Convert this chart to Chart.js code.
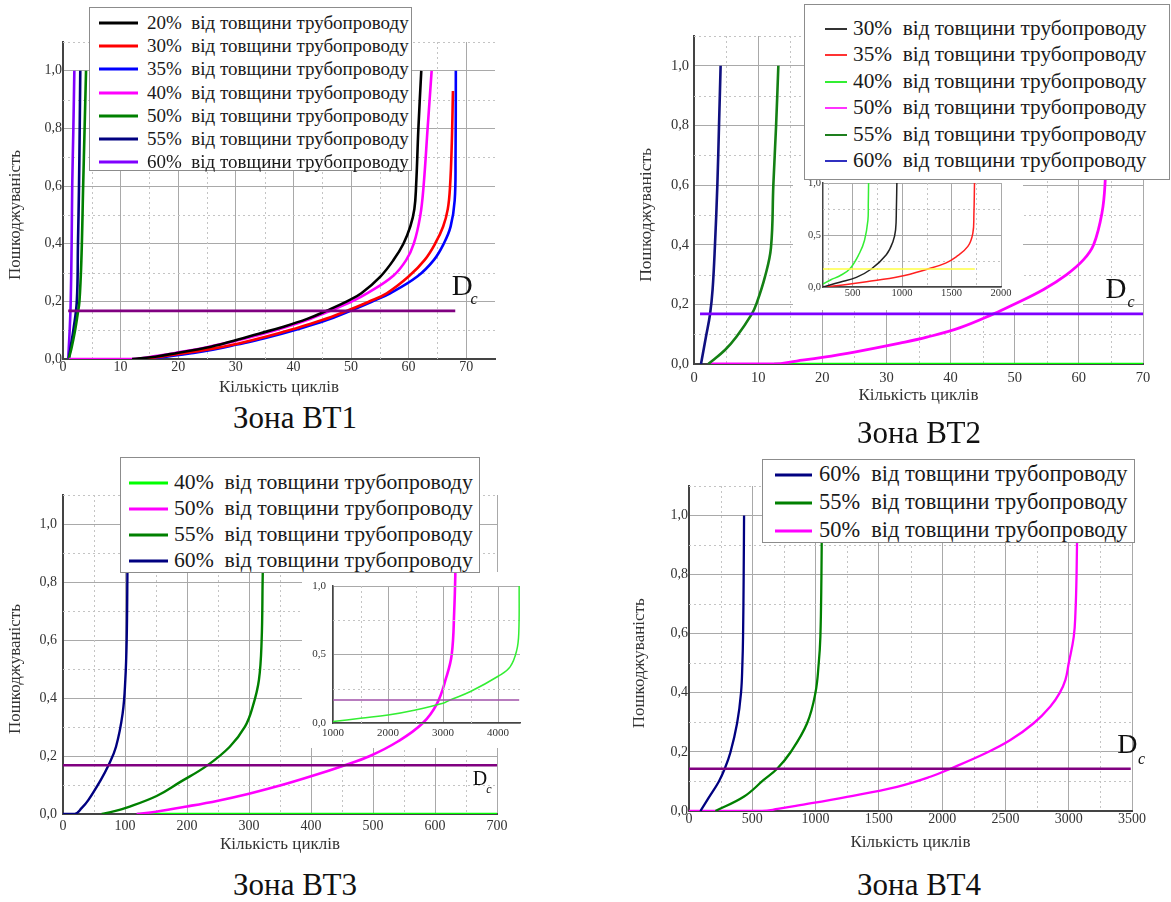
<!DOCTYPE html>
<html lang="uk">
<head>
<meta charset="utf-8">
<title>Пошкоджуваність</title>
<script src="https://cdn.jsdelivr.net/npm/chart.js"></script>
<style>
  html, body { margin: 0; padding: 0; background: #fff; }
  body { position: relative; width: 1171px; height: 902px; overflow: hidden;
         font-family: "Liberation Serif", "Times New Roman", "DejaVu Serif", serif; color: #1a1a1a; }
  canvas { position: absolute; }
  .legend { position: absolute; background: #fff; border: 1px solid #8c8c8c; box-sizing: border-box; z-index: 5; }
  .legend .row { position: absolute; left: 0; height: 0; }
  .legend .ln { position: absolute; top: 0; transform: translateY(-50%); }
  .legend .tx { position: absolute; top: 0; transform: translateY(-52%); white-space: pre; line-height: 1; }
  .zone { position: absolute; transform: translate(-50%, -50%); font-size: 31px; white-space: nowrap; color: #111; z-index: 5; }
</style>
</head>
<body>
<script>
const FONT = '"Liberation Serif", "Times New Roman", "DejaVu Serif", serif';
const LEGEND_TAIL = '  від товщини трубопроводу';
const X_TITLE = 'Кількість циклів';
const Y_TITLE = 'Пошкоджуваність';
const yTicks = [0, 0.2, 0.4, 0.6, 0.8, 1.0];
const insetYTicks = [0, 0.5, 1.0];

// ---- Зона ВТ1 ----
const bt1Levels = ['20%', '30%', '35%', '40%', '50%', '55%', '60%'];
const bt1XTicks = [0, 10, 20, 30, 40, 50, 60, 70];
const bt1_20 = [[12, 0], [16, 0.008], [20, 0.022], [25, 0.04], [29, 0.06], [34, 0.088], [38.3, 0.112], [42.5, 0.14], [45.8, 0.168], [49.3, 0.2], [51.8, 0.228], [55.1, 0.286], [57.4, 0.344], [59.1, 0.4], [60.3, 0.46], [61, 0.52], [61.3, 0.6], [61.7, 0.8], [62.2, 1.0]];
const bt1_30 = [[13, 0], [17, 0.008], [21, 0.02], [26, 0.036], [30.5, 0.054], [35, 0.076], [40, 0.104], [45, 0.135], [49, 0.165], [53, 0.198], [56.2, 0.228], [60, 0.286], [62.8, 0.344], [64.6, 0.4], [66.0, 0.46], [66.8, 0.52], [67.2, 0.6], [67.5, 0.75], [67.7, 0.93]];
const bt1_35 = [[14, 0], [18, 0.008], [22, 0.019], [26, 0.032], [30.2, 0.05], [35, 0.072], [41.2, 0.106], [45.8, 0.135], [49.6, 0.165], [53.5, 0.198], [56.8, 0.228], [61.5, 0.286], [64.4, 0.344], [66.1, 0.4], [67.3, 0.46], [68.0, 0.55], [68.15, 0.7], [68.2, 1.0]];
const bt1_40 = [[1, 0], [12, 0], [16, 0.01], [20, 0.023], [25, 0.041], [30, 0.063], [34, 0.083], [38.6, 0.11], [43, 0.14], [46.4, 0.167], [50.2, 0.2], [53, 0.23], [57.4, 0.29], [59.6, 0.344], [60.9, 0.4], [62.0, 0.494], [62.6, 0.6], [63.3, 0.8], [64, 1.0]];
const bt1_50 = [[1, 0], [1.5, 0.04], [2.1, 0.1], [2.5, 0.15], [2.85, 0.2], [3.2, 0.35], [3.5, 0.6], [3.75, 0.8], [4.0, 1.0]];
const bt1_55 = [[1, 0], [1.4, 0.05], [1.8, 0.1], [2.4, 0.2], [2.6, 0.4], [2.78, 0.6], [2.9, 0.8], [3.0, 1.0]];
const bt1_60 = [[0.9, 0], [1.16, 0.1], [1.34, 0.2], [1.5, 0.4], [1.6, 0.6], [1.8, 0.8], [1.97, 1.0]];
const bt1Dc = [[0.9, 0.167], [68.1, 0.167]];

// ---- Зона ВТ2 ----
const bt2Levels = ['30%', '35%', '40%', '50%', '55%', '60%'];
const bt2XTicks = [0, 10, 20, 30, 40, 50, 60, 70];
const bt2_40 = [[12.5, 0], [70, 0]];
const bt2_50 = [[2.2, 0], [12.5, 0], [16, 0.01], [20, 0.022], [25, 0.04], [32.1, 0.07], [36.3, 0.09], [41.5, 0.122], [46.7, 0.168], [49.5, 0.196], [54.5, 0.25], [58.1, 0.3], [60.7, 0.349], [62.3, 0.4], [63.6, 0.506], [64.1, 0.612], [64.4, 0.8], [64.6, 1.0]];
const bt2_55 = [[2.23, 0], [4.83, 0.047], [6.65, 0.092], [9.0, 0.167], [9.77, 0.204], [11.07, 0.293], [12.0, 0.39], [12.37, 0.6], [12.8, 0.8], [13.15, 1.0]];
const bt2_60 = [[1.09, 0], [1.87, 0.092], [2.5, 0.167], [2.9, 0.25], [3.27, 0.4], [3.64, 0.6], [3.9, 0.8], [4.15, 1.0]];
const bt2Dc = [[0.94, 0.168], [70, 0.168]];
// inset of ВТ2
const bt2InXTicks = [500, 1000, 1500, 2000];
const bt2In_30 = [[200, 0], [370, 0.045], [537, 0.093], [689, 0.173], [840, 0.31], [907, 0.436], [934, 0.55], [942, 0.75], [947, 1.0]];
const bt2In_35 = [[200, 0], [420, 0.022], [640, 0.05], [975, 0.1], [1261, 0.173], [1440, 0.23], [1547, 0.29], [1665, 0.39], [1715, 0.516], [1726, 0.7], [1732, 1.0]];
const bt2In_40 = [[200, 0.03], [280, 0.07], [367, 0.106], [470, 0.173], [570, 0.327], [620, 0.45], [654, 0.64], [658, 0.8], [661, 1.0]];
const bt2InDc = [[200, 0.173], [1735, 0.173]];

// ---- Зона ВТ3 ----
const bt3Levels = ['40%', '50%', '55%', '60%'];
const bt3XTicks = [0, 100, 200, 300, 400, 500, 600, 700];
const bt3_40 = [[120, 0], [700, 0]];
const bt3_50 = [[118.8, 0], [150, 0.008], [200, 0.026], [250, 0.046], [300, 0.07], [350, 0.098], [400, 0.13], [450, 0.165], [495, 0.2], [540, 0.25], [580, 0.313], [603, 0.38], [618, 0.47], [627, 0.55], [631, 0.7], [633, 0.85], [634, 1.0]];
const bt3_55 = [[62.4, 0], [80, 0.008], [102.7, 0.022], [151, 0.062], [188.7, 0.11], [231.7, 0.166], [269, 0.232], [293.5, 0.301], [306, 0.37], [316, 0.462], [320.4, 0.6], [322, 0.807], [323.5, 1.0]];
const bt3_60 = [[0, 0], [19.4, 0], [30, 0.02], [40.8, 0.048], [60.8, 0.117], [73, 0.166], [85.5, 0.232], [96.2, 0.347], [100.5, 0.462], [102.7, 0.6], [103.8, 0.807], [104.5, 1.0]];
const bt3Dc = [[0, 0.168], [700, 0.168]];
// inset of ВТ3
const bt3InXTicks = [1000, 2000, 3000, 4000];
const bt3In_40 = [[1000, 0.01], [1500, 0.035], [2000, 0.058], [2500, 0.095], [3000, 0.144], [3130, 0.168], [3500, 0.23], [4010, 0.343], [4220, 0.41], [4340, 0.53], [4378, 0.66], [4385, 1.0]];
const bt3InDc = [[1000, 0.168], [4385, 0.168]];

// ---- Зона ВТ4 ----
const bt4Levels = ['60%', '55%', '50%'];
const bt4XTicks = [0, 500, 1000, 1500, 2000, 2500, 3000, 3500];
const bt4_60 = [[90, 0], [156, 0.045], [236, 0.1], [282, 0.143], [327, 0.198], [380, 0.297], [411, 0.4], [422, 0.5], [427, 0.59], [432, 0.8], [435, 1.0]];
const bt4_55 = [[209, 0], [432, 0.048], [590, 0.105], [696, 0.143], [801, 0.198], [933, 0.297], [999, 0.4], [1025, 0.5], [1038, 0.59], [1046, 0.785], [1050, 1.0]];
const bt4_50 = [[0, 0], [577, 0], [700, 0.007], [854, 0.018], [1249, 0.048], [1644, 0.082], [1907, 0.116], [2065, 0.143], [2355, 0.198], [2539, 0.24], [2723, 0.297], [2855, 0.354], [2929, 0.4], [2974, 0.444], [3000, 0.5], [3040, 0.59], [3053, 0.67], [3062, 0.8], [3068, 1.0]];
const bt4Dc = [[0, 0.143], [3490, 0.143]];

// draws the dotted minor grid, blanks the inset area, the rotated y title and the D_c mark
const panelDecor = {
  id: 'panelDecor',
  beforeDatasetsDraw(chart, args, o) {
    const { ctx, chartArea: a, scales: { x, y } } = chart;
    const isMajor = (v, m) => Math.abs(v / m - Math.round(v / m)) < 1e-6;
    ctx.save();
    ctx.strokeStyle = '#c4c4c4';
    ctx.lineWidth = 1;
    ctx.setLineDash([2, 3]);
    if (o.minorX) {
      for (let v = Math.ceil(x.min / o.minorX) * o.minorX; v < x.max; v += o.minorX) {
        if (v <= x.min || isMajor(v, o.majorX)) continue;
        const px = Math.round(x.getPixelForValue(v)) + 0.5;
        ctx.beginPath(); ctx.moveTo(px, a.top); ctx.lineTo(px, a.bottom); ctx.stroke();
      }
    }
    if (o.minorY) {
      for (let v = o.minorY; v < y.max; v += o.minorY) {
        if (isMajor(v, o.majorY)) continue;
        const py = Math.round(y.getPixelForValue(v)) + 0.5;
        ctx.beginPath(); ctx.moveTo(a.left, py); ctx.lineTo(a.right, py); ctx.stroke();
      }
    }
    ctx.setLineDash([]);
    if (o.blank) {
      ctx.fillStyle = '#fff';
      ctx.fillRect(o.blank.x, o.blank.y, o.blank.w, o.blank.h);
    }
    ctx.restore();
  },
  afterDraw(chart, args, o) {
    const { ctx, scales: { x, y } } = chart;
    if (o.yTitle) {
      ctx.save();
      ctx.fillStyle = '#333';
      ctx.translate(o.yTitle.x, y.getPixelForValue(0.5));
      ctx.rotate(-Math.PI / 2);
      ctx.font = o.yTitle.size + 'px ' + FONT;
      ctx.textAlign = 'center';
      ctx.textBaseline = 'middle';
      ctx.fillText(Y_TITLE, 0, 0);
      ctx.restore();
    }
    if (o.dc) {
      const px = x.getPixelForValue(o.dc.x), py = y.getPixelForValue(o.dc.y);
      ctx.save();
      ctx.fillStyle = '#111';
      ctx.textAlign = 'center';
      ctx.textBaseline = 'middle';
      ctx.font = o.dc.size + 'px ' + FONT;
      ctx.fillText('D', px, py);
      ctx.font = 'italic ' + o.dc.sub + 'px ' + FONT;
      ctx.fillText('c', px + o.dc.dx, py + o.dc.dy);
      ctx.restore();
    }
  }
};

function curve(label, pts, color, width) {
  return {
    label, data: pts.map(([x, y]) => ({ x, y })), showLine: true,
    borderColor: color, backgroundColor: color, borderWidth: width,
    pointRadius: 0, tension: 0.4, fill: false, borderJoinStyle: 'round'
  };
}
function straight(label, pts, color, width) {
  const d = curve(label, pts, color, width);
  d.tension = 0;
  return d;
}
const yLabel = v => Number(v).toFixed(1).replace('.', ',');

function makeChart(p) {
  const cv = document.createElement('canvas');
  cv.width = p.box.width;
  cv.height = p.box.height;
  cv.style.left = p.box.left + 'px';
  cv.style.top = p.box.top + 'px';
  cv.style.zIndex = p.z;
  document.body.appendChild(cv);
  const yW = p.area.left - p.box.left;
  const xH = p.box.top + p.box.height - p.area.bottom;
  const tickFont = { family: FONT, size: p.tickSize };
  return new Chart(cv, {
    type: 'scatter',
    data: { datasets: p.datasets },
    options: {
      responsive: false,
      animation: false,
      events: [],
      layout: { padding: { left: 0, bottom: 0, top: p.area.top - p.box.top, right: p.box.left + p.box.width - p.area.right } },
      plugins: { legend: { display: false }, tooltip: { enabled: false }, panelDecor: p.decor },
      scales: {
        x: {
          type: 'linear', min: p.x.min, max: p.x.max,
          afterBuildTicks: s => { s.ticks = p.x.ticks.map(v => ({ value: v })); },
          afterFit: s => { s.height = xH; s.paddingLeft = 0; s.paddingRight = 0; },
          ticks: { autoSkip: false, maxRotation: 0, padding: p.x.pad, color: '#333', font: tickFont, callback: v => String(v) },
          grid: { color: '#a9a9a9', lineWidth: 1, drawTicks: false },
          border: { color: '#444', width: p.borderW },
          title: p.xTitle
            ? { display: true, text: X_TITLE, color: '#333', font: { family: FONT, size: p.xTitle }, padding: { top: 0, bottom: 0 } }
            : { display: false }
        },
        y: {
          type: 'linear', min: p.y.min, max: p.y.max,
          afterBuildTicks: s => { s.ticks = p.y.ticks.map(v => ({ value: v })); },
          afterFit: s => { s.width = yW; s.paddingTop = 0; s.paddingBottom = 0; },
          ticks: { autoSkip: false, padding: p.y.pad, color: '#333', font: tickFont, callback: yLabel },
          grid: { color: '#a9a9a9', lineWidth: 1, drawTicks: false },
          border: { color: '#444', width: p.borderW }
        }
      }
    },
    plugins: [panelDecor]
  });
}

function makeLegend(l) {
  const box = document.createElement('div');
  box.className = 'legend';
  Object.assign(box.style, { left: l.box.left + 'px', top: l.box.top + 'px', width: l.box.width + 'px', height: l.box.height + 'px' });
  l.levels.forEach((lev, i) => {
    const row = document.createElement('div');
    row.className = 'row';
    row.style.top = (l.first + i * l.step) + 'px';
    const ln = document.createElement('span');
    ln.className = 'ln';
    Object.assign(ln.style, { left: l.lineX + 'px', width: l.lineW + 'px', height: l.lineH + 'px', background: l.colors[i] });
    const tx = document.createElement('span');
    tx.className = 'tx';
    Object.assign(tx.style, { left: l.textX + 'px', fontSize: l.size + 'px' });
    tx.textContent = lev + LEGEND_TAIL;
    row.appendChild(ln);
    row.appendChild(tx);
    box.appendChild(row);
  });
  document.body.appendChild(box);
}

function zone(text, cx, cy) {
  const d = document.createElement('div');
  d.className = 'zone';
  d.style.left = cx + 'px';
  d.style.top = cy + 'px';
  d.textContent = text;
  document.body.appendChild(d);
}

// ---------- ВТ1 ----------
const bt1Colors = ['#000000', '#ff0000', '#0000ff', '#ff00ff', '#008000', '#000080', '#8000ff'];
const bt1Data = [bt1_20, bt1_30, bt1_35, bt1_40, bt1_50, bt1_55, bt1_60];
makeChart({
  box: { left: 0, top: 0, width: 510, height: 398 }, area: { left: 63, top: 42, right: 495, bottom: 359 }, z: 1,
  x: { min: 0, max: 75, ticks: bt1XTicks, pad: 0 }, y: { min: 0, max: 1.1, ticks: yTicks, pad: 1 },
  tickSize: 14, borderW: 2, xTitle: 17,
  decor: { minorX: 5, majorX: 10, minorY: 0.1, majorY: 0.2, yTitle: { x: 16, size: 17 }, dc: { x: 69.3, y: 0.25, size: 29, sub: 16, dx: 12, dy: 13 } },
  datasets: [straight('Dc', bt1Dc, '#800080', 2.6)].concat(bt1Data.map((d, i) => curve(bt1Levels[i], d, bt1Colors[i], 2.6)))
});
makeLegend({ box: { left: 89, top: 7, width: 323, height: 164 }, levels: bt1Levels, colors: bt1Colors,
  first: 15, step: 23.2, lineX: 9, lineW: 39, lineH: 3, textX: 57, size: 19 });
zone('Зона ВТ1', 295, 418);

// ---------- ВТ2 ----------
const bt2LegendColors = ['#333333', '#ff3333', '#33ee33', '#ff33ff', '#1e7f1e', '#3030c0'];
const bt2Inset = { left: 793, top: 175, width: 230, height: 135 };
makeChart({
  box: { left: 628, top: 0, width: 530, height: 406 }, area: { left: 694, top: 36, right: 1143, bottom: 364 }, z: 1,
  x: { min: 0, max: 70, ticks: bt2XTicks, pad: 5 }, y: { min: 0, max: 1.1, ticks: yTicks, pad: 5 },
  tickSize: 14.5, borderW: 2, xTitle: 17,
  decor: { minorX: 5, majorX: 10, minorY: 0.1, majorY: 0.2, yTitle: { x: 18, size: 17.5 },
    dc: { x: 65.8, y: 0.248, size: 29, sub: 16, dx: 15, dy: 13 },
    blank: { x: bt2Inset.left - 628, y: bt2Inset.top, w: bt2Inset.width, h: bt2Inset.height } },
  datasets: [
    straight('Dc', bt2Dc, '#7f00ff', 2.6),
    curve('60%', bt2_60, '#101080', 2.6),
    curve('55%', bt2_55, '#148014', 2.6),
    curve('50%', bt2_50, '#ff00ff', 2.8),
    straight('40%', bt2_40, '#00ff00', 2.6)
  ]
});
makeChart({
  box: bt2Inset, area: { left: 823, top: 183, right: 1001, bottom: 287 }, z: 2,
  x: { min: 200, max: 2000, ticks: bt2InXTicks, pad: 0 }, y: { min: 0, max: 1.0, ticks: insetYTicks, pad: 2 },
  tickSize: 10.5, borderW: 1.5,
  decor: { minorX: 250, majorX: 500, minorY: 0.25, majorY: 0.5 },
  datasets: [
    straight('Dc', bt2InDc, '#ffff44', 1.6),
    curve('40%', bt2In_40, '#33ee33', 1.5),
    curve('30%', bt2In_30, '#222222', 1.5),
    curve('35%', bt2In_35, '#ff2020', 1.5)
  ]
});
makeLegend({ box: { left: 804, top: 4, width: 366, height: 176 }, levels: bt2Levels, colors: bt2LegendColors,
  first: 24, step: 26.4, lineX: 20, lineW: 22, lineH: 2, textX: 48, size: 21.3 });
zone('Зона ВТ2', 919, 433);

// ---------- ВТ3 ----------
const bt3Colors = ['#00ff00', '#ff00ff', '#008000', '#000080'];
const bt3Inset = { left: 302, top: 572, width: 228, height: 176 };
makeChart({
  box: { left: 0, top: 450, width: 515, height: 405 }, area: { left: 63, top: 495, right: 497, bottom: 814 }, z: 1,
  x: { min: 0, max: 700, ticks: bt3XTicks, pad: 4 }, y: { min: 0, max: 1.1, ticks: yTicks, pad: 6 },
  tickSize: 14, borderW: 2, xTitle: 17,
  decor: { minorX: 50, majorX: 100, minorY: 0.1, majorY: 0.2, yTitle: { x: 16, size: 17 },
    dc: { x: 672.6, y: 0.117, size: 20, sub: 12, dx: 9, dy: 10 },
    blank: { x: bt3Inset.left, y: bt3Inset.top - 450, w: bt3Inset.width, h: bt3Inset.height } },
  datasets: [
    straight('Dc', bt3Dc, '#800080', 2.6),
    curve('60%', bt3_60, '#000080', 2.4),
    curve('55%', bt3_55, '#008000', 2.4),
    curve('50%', bt3_50, '#ff00ff', 2.6),
    straight('40%', bt3_40, '#00ff00', 2.4)
  ]
});
makeChart({
  box: bt3Inset, area: { left: 333, top: 586, right: 520, bottom: 723 }, z: 2,
  x: { min: 1000, max: 4400, ticks: bt3InXTicks, pad: 4 }, y: { min: 0, max: 1.0, ticks: insetYTicks, pad: 7 },
  tickSize: 11, borderW: 1.5,
  decor: { minorX: 500, majorX: 1000, minorY: 0.25, majorY: 0.5 },
  datasets: [
    straight('Dc', bt3InDc, '#a050a8', 1.6),
    curve('40%', bt3In_40, '#33ee33', 1.5)
  ]
});
makeLegend({ box: { left: 120, top: 457, width: 360, height: 116 }, levels: bt3Levels, colors: bt3Colors,
  first: 25, step: 26, lineX: 8, lineW: 39, lineH: 3, textX: 53, size: 21.7 });
zone('Зона ВТ3', 295, 885);

// ---------- ВТ4 ----------
const bt4Colors = ['#000080', '#008000', '#ff00ff'];
makeChart({
  box: { left: 624, top: 450, width: 526, height: 403 }, area: { left: 689, top: 486, right: 1132, bottom: 811 }, z: 1,
  x: { min: 0, max: 3500, ticks: bt4XTicks, pad: 0 }, y: { min: 0, max: 1.1, ticks: yTicks, pad: 1 },
  tickSize: 14, borderW: 2, xTitle: 17,
  decor: { minorX: 250, majorX: 500, minorY: 0.1, majorY: 0.2, yTitle: { x: 16, size: 17 },
    dc: { x: 3464, y: 0.22, size: 28, sub: 16, dx: 14, dy: 14 } },
  datasets: [
    straight('Dc', bt4Dc, '#800080', 2.6),
    curve('60%', bt4_60, '#000080', 2.3),
    curve('55%', bt4_55, '#008000', 2.3),
    curve('50%', bt4_50, '#ff00ff', 2.3)
  ]
});
makeLegend({ box: { left: 762, top: 459, width: 373, height: 84 }, levels: bt4Levels, colors: bt4Colors,
  first: 15, step: 28, lineX: 12, lineW: 37, lineH: 3, textX: 56, size: 22.4 });
zone('Зона ВТ4', 919, 885);
</script>
</body>
</html>
